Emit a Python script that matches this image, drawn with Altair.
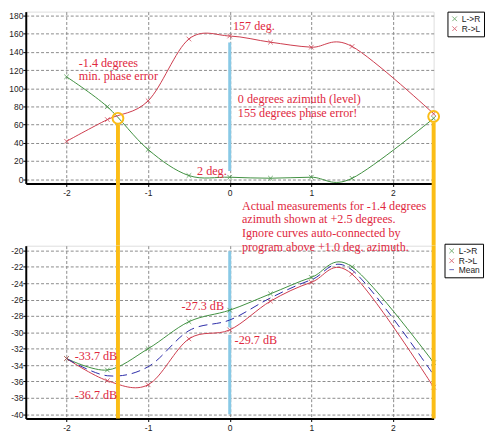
import altair as alt
import pandas as pd

# ---------------- data ----------------
azimuth = [-2, -1.5, -1, -0.5, 0, 0.5, 1, 1.5, 2.5]
phase_lr = [112.6, 79.7, 32.6, 4.0, 2.2, 1.1, 2.2, 1.0, 67]
phase_rl = [41.7, 65.6, 86.2, 154.2, 157.5, 150.7, 145.2, 146.0, 72]
level_lr = [-33.2, -34.6, -32.0, -28.7, -27.3, -25.3, -23.3, -22.0, -33.7]
level_rl = [-33.2, -35.9, -36.4, -30.8, -29.7, -26.2, -23.9, -22.9, -36.7]
level_mean = [-33.2, -35.3, -34.2, -29.8, -28.5, -25.8, -23.6, -22.4, -35.2]

series_names = ["L->R", "R->L", "Mean"]
x_ticks = [-2, -1, 0, 1, 2]
phase_ticks = [0, 20, 40, 60, 80, 100, 120, 140, 160, 180]
level_ticks = [-40, -38, -36, -34, -32, -30, -28, -26, -24, -22, -20]

marker_az = [-1.37, 2.5]
marker_phase = [67, 69]
marker_phase_start = [60.5, 62.5]

top_notes = ["-1.4 degrees", "min. phase error", "157 deg.",
             "0 degrees azimuth (level)", "155 degrees phase error!", "2 deg."]
top_notes_x = [-1.85, -1.85, 0.04, 0.10, 0.10, -0.40]
top_notes_y = [127.9, 113.7, 168.0, 87.7, 72.5, 9.5]

bottom_notes = ["-27.3 dB", "-29.7 dB", "-33.7 dB", "-36.7 dB",
                "Actual measurements for -1.4 degrees",
                "azimuth shown at +2.5 degrees.",
                "Ignore curves auto-connected by",
                "program above +1.0 deg. azimuth."]
bottom_notes_x = [-0.59, 0.06, -1.90, -1.90, 0.15, 0.15, 0.15, 0.15]
bottom_notes_y = [-26.75, -30.96, -32.93, -37.7, -14.6, -16.2, -17.9, -19.55]

# ---------------- style ----------------
AXF = "Liberation Sans, Arial, sans-serif"
SERIF = "Liberation Serif, Times New Roman, serif"
GREEN = "#3f8f3f"
RED = "#cc3b4c"
BLUE = "#2b2ba8"
TXT = "#e0283e"
YEL = "#fbbd16"
CYAN = "#88c9e6"
XPATH = "M-1,-1L1,1M1,-1L-1,1"

W = 413
H1 = 174
H2 = 175
GAP = 63

XDOM = [-2.5, 2.5]
PDOM = [-4.7, 184.3]
LDOM = [-40.52, -19.43]


def xaxis():
    return alt.Axis(values=x_ticks, grid=True, gridDash=[3, 2], gridColor="#8a8a8a",
                    domainColor="black", domainWidth=2, tickColor="black", tickSize=3,
                    labelPadding=2, labelFont=AXF, labelFontSize=8.6, labelColor="#222",
                    labelOverlap=False, labelExpr="'' + datum.value", title=None)


def yaxis(vals):
    return alt.Axis(values=vals, grid=True, gridDash=[3, 2], gridColor="#8a8a8a",
                    domainColor="black", domainWidth=2, tickColor="black", tickSize=3,
                    labelPadding=0, labelFont=AXF, labelFontSize=8.5, labelColor="#222",
                    labelOverlap=False, labelExpr="'' + datum.value", title=None)


def legend(lx, ly):
    return alt.Legend(title=None, orient="none", legendX=lx, legendY=ly,
                      fillColor="white", strokeColor="black", padding=3,
                      labelFont=AXF, labelFontSize=8.5, labelColor="#222",
                      symbolSize=22, symbolStrokeWidth=1, rowPadding=0,
                      labelOffset=3)


n = len(azimuth)

# ---------------- top panel (phase) ----------------
top_df = pd.DataFrame({
    "az": azimuth * 2,
    "val": phase_lr + phase_rl,
    "series": ["L->R"] * n + ["R->L"] * n,
})
top_color_scale = alt.Scale(domain=series_names[:2], range=[GREEN, RED])
top_shape_scale = alt.Scale(domain=series_names[:2], range=[XPATH, XPATH])
X_T = alt.X("az:Q", scale=alt.Scale(domain=XDOM, nice=False, zero=False), axis=xaxis())
Y_T = alt.Y("val:Q", scale=alt.Scale(domain=PDOM, nice=False, zero=False), axis=yaxis(phase_ticks))
Y2_T = alt.Y2("val2:Q")
C_T = alt.Color("series:N", scale=top_color_scale, legend=legend(427, 0))
S_T = alt.Shape("series:N", scale=top_shape_scale, legend=legend(427, 0))

top_lines = alt.Chart(top_df).mark_line(interpolate="cardinal", strokeWidth=1).encode(
    x=X_T, y=Y_T, color=C_T)
top_pts = alt.Chart(top_df).mark_point(filled=False, size=22, strokeWidth=1).encode(
    x=X_T, y=Y_T, color=C_T, shape=S_T)

top_cyan = alt.Chart(pd.DataFrame({"az": [0], "val": [150.4], "val2": [9.0]})).mark_rule(
    color=CYAN, strokeWidth=3).encode(x=X_T, y=Y_T, y2=Y2_T)

marker_df = pd.DataFrame({"az": marker_az, "val": marker_phase, "val2": marker_phase_start})
top_circles = alt.Chart(marker_df).mark_point(shape="circle", size=120, filled=False,
                                              color=YEL, strokeWidth=2, opacity=1).encode(
    x=X_T, y=Y_T)
top_yellow = alt.Chart(marker_df).transform_calculate(v="datum.val2").mark_rule(
    color=YEL, strokeWidth=4).encode(
    x=X_T, y=alt.Y("v:Q", scale=alt.Scale(domain=PDOM, nice=False, zero=False), axis=yaxis(phase_ticks)),
    y2=alt.value(H1 + GAP))

top_text = alt.Chart(pd.DataFrame({"az": top_notes_x, "val": top_notes_y, "t": top_notes})).mark_text(
    align="left", baseline="middle", font=SERIF, fontSize=12.3, color=TXT).encode(
    x=X_T, y=Y_T, text="t:N")

top = alt.layer(top_cyan, top_lines, top_pts, top_circles, top_yellow, top_text).properties(
    width=W, height=H1)

# ---------------- bottom panel (level) ----------------
bot_df = pd.DataFrame({
    "az": azimuth * 3,
    "val": level_lr + level_rl + level_mean,
    "series": ["L->R"] * n + ["R->L"] * n + ["Mean"] * n,
})
bot_color_scale = alt.Scale(domain=series_names, range=[GREEN, RED, BLUE])
bot_shape_scale = alt.Scale(domain=series_names, range=[XPATH, XPATH, "stroke"])
X_B = alt.X("az:Q", scale=alt.Scale(domain=XDOM, nice=False, zero=False), axis=xaxis())
Y_B = alt.Y("val:Q", scale=alt.Scale(domain=LDOM, nice=False, zero=False), axis=yaxis(level_ticks))
Y2_B = alt.Y2("val2:Q")
C_B = alt.Color("series:N", scale=bot_color_scale, legend=legend(424, -2))
S_B = alt.Shape("series:N", scale=bot_shape_scale, legend=legend(424, -2))

bot_cyan = alt.Chart(pd.DataFrame({"az": [0, 0], "val": [-20.1, -30.3], "val2": [-29.4, -40.0]})).mark_rule(
    color=CYAN, strokeWidth=3).encode(x=X_B, y=Y_B, y2=Y2_B)

bot_lines = alt.Chart(bot_df).transform_filter("datum.series != 'Mean'").mark_line(
    interpolate="cardinal", strokeWidth=1).encode(x=X_B, y=Y_B, color=C_B)
bot_mean = alt.Chart(bot_df).transform_filter("datum.series == 'Mean'").mark_line(
    interpolate="cardinal", strokeWidth=1, strokeDash=[9, 5]).encode(x=X_B, y=Y_B, color=C_B)
bot_pts = alt.Chart(bot_df).transform_filter("datum.series != 'Mean'").mark_point(
    filled=False, size=22, strokeWidth=1).encode(x=X_B, y=Y_B, color=C_B, shape=S_B)

bot_yellow = alt.Chart(pd.DataFrame({"az": marker_az, "val": [LDOM[1]] * 2, "val2": [LDOM[0]] * 2})).mark_rule(
    color=YEL, strokeWidth=4).encode(x=X_B, y=Y_B, y2=Y2_B)

bot_text = alt.Chart(pd.DataFrame({"az": bottom_notes_x, "val": bottom_notes_y, "t": bottom_notes})).mark_text(
    align="left", baseline="middle", font=SERIF, fontSize=12.3, color=TXT).encode(
    x=X_B, y=Y_B, text="t:N")

bottom = alt.layer(bot_cyan, bot_lines, bot_mean, bot_pts, bot_yellow, bot_text).properties(
    width=W, height=H2)

chart = alt.vconcat(top, bottom, spacing=GAP, bounds="flush", padding=0).resolve_scale(
    x="independent", y="independent", color="independent", shape="independent"
).resolve_legend(color="independent", shape="independent"
).configure_view(stroke=None).configure(background="white")

chart.save("out.html", embed_options={"renderer": "svg", "actions": False})
